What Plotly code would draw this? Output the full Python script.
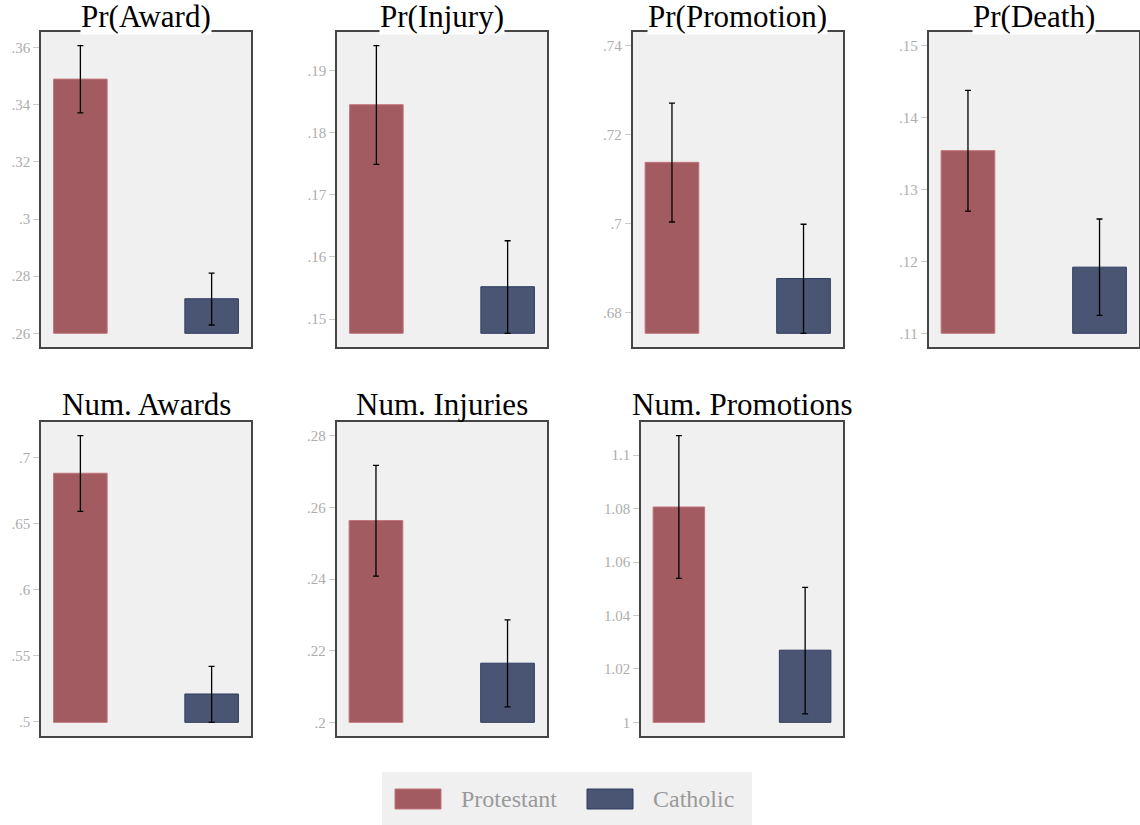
import plotly.graph_objects as go

# ---- data -------------------------------------------------------------
panel_titles = ["Pr(Award)", "Pr(Injury)", "Pr(Promotion)", "Pr(Death)",
                "Num. Awards", "Num. Injuries", "Num. Promotions"]
groups = ["Protestant", "Catholic"]

protestant_mean = [0.3490, 0.1845, 0.7138, 0.1354, 0.6881, 0.2563, 1.0806]
protestant_lo = [0.3372, 0.1749, 0.7004, 0.1270, 0.6592, 0.2408, 1.0539]
protestant_hi = [0.3607, 0.1940, 0.7271, 0.1438, 0.7166, 0.2717, 1.1073]

catholic_mean = [0.2721, 0.1552, 0.6877, 0.1192, 0.5207, 0.2165, 1.0270]
catholic_lo = [0.2629, 0.1477, 0.6754, 0.1125, 0.4992, 0.2043, 1.0032]
catholic_hi = [0.2811, 0.1626, 0.6999, 0.1259, 0.5416, 0.2286, 1.0505]

tick_values = [
    [0.26, 0.28, 0.30, 0.32, 0.34, 0.36],
    [0.15, 0.16, 0.17, 0.18, 0.19],
    [0.68, 0.70, 0.72, 0.74],
    [0.11, 0.12, 0.13, 0.14, 0.15],
    [0.50, 0.55, 0.60, 0.65, 0.70],
    [0.20, 0.22, 0.24, 0.26, 0.28],
    [1.00, 1.02, 1.04, 1.06, 1.08, 1.10],
]
tick_labels = [
    [".26", ".28", ".3", ".32", ".34", ".36"],
    [".15", ".16", ".17", ".18", ".19"],
    [".68", ".7", ".72", ".74"],
    [".11", ".12", ".13", ".14", ".15"],
    [".5", ".55", ".6", ".65", ".7"],
    [".2", ".22", ".24", ".26", ".28"],
    ["1", "1.02", "1.04", "1.06", "1.08", "1.1"],
]

# ---- styling ----------------------------------------------------------
W, H = 1140, 825
SERIF = "Liberation Serif, DejaVu Serif, serif"
FILL = {"Protestant": "#a25b60", "Catholic": "#4a5573"}
EDGE = {"Protestant": "#c2747a", "Catholic": "#2f3c62"}
PLOT_BG = "#f0f0f0"
FRAME = "#454545"
TICK_GREY = "#adadad"

# plot boxes in pixels: (left, right, top, bottom)
boxes = [
    (41, 251, 32, 347), (337, 547, 32, 347), (632.5, 843, 32, 347), (928.5, 1139, 32, 347),
    (41, 251, 422, 736), (336.5, 547, 422, 736), (641, 843, 422, 736),
]
PAD_FRAC = 13.7 / 287.6   # breathing room above / below the data extent
BAR_W = 0.408


def fx(px):
    return px / W


def fy(px):
    return 1 - px / H


fig = go.Figure()
layout = dict(
    width=W, height=H,
    margin=dict(l=0, r=0, t=0, b=0),
    paper_bgcolor="white", plot_bgcolor=PLOT_BG,
    barmode="overlay", showlegend=False,
    font=dict(family=SERIF),
    annotations=[], shapes=[],
)

for i, title in enumerate(panel_titles):
    sfx = "" if i == 0 else str(i + 1)
    left, right, top, bottom = boxes[i]

    lows = [protestant_lo[i], catholic_lo[i]]
    highs = [protestant_hi[i], catholic_hi[i]]
    floor_v = min(min(tick_values[i]), min(lows))
    ceil_v = max(max(tick_values[i]), max(highs))
    pad = PAD_FRAC * (ceil_v - floor_v)

    series = [
        ("Protestant", protestant_mean[i], protestant_lo[i], protestant_hi[i]),
        ("Catholic", catholic_mean[i], catholic_lo[i], catholic_hi[i]),
    ]
    for pos, (name, m, lo, hi) in enumerate(series):
        fig.add_trace(go.Bar(
            x=[pos], y=[m - floor_v], base=[floor_v], width=BAR_W, name=name,
            marker=dict(color=FILL[name], line=dict(color=EDGE[name], width=1)),
            error_y=dict(type="data", symmetric=False, array=[hi - m],
                         arrayminus=[m - lo], color="black", thickness=1.3, width=3),
            xaxis="x" + sfx, yaxis="y" + sfx,
        ))

    layout["xaxis" + sfx] = dict(
        domain=[fx(left), fx(right)], range=[-0.3, 1.3], anchor="y" + sfx,
        showticklabels=False, ticks="", showgrid=False, zeroline=False,
        showline=True, mirror=True, linecolor=FRAME, linewidth=1.5, fixedrange=True,
    )
    layout["yaxis" + sfx] = dict(
        domain=[fy(bottom), fy(top)], range=[floor_v - pad, ceil_v + pad],
        anchor="x" + sfx, tickmode="array",
        tickvals=tick_values[i], ticktext=tick_labels[i],
        ticks="outside", ticklen=6, tickwidth=1, tickcolor="#c8c8c8",
        tickfont=dict(family=SERIF, size=15, color=TICK_GREY),
        showgrid=False, zeroline=False,
        showline=True, mirror=True, linecolor=FRAME, linewidth=1.5, fixedrange=True,
    )

    top_row = i < 4
    layout["annotations"].append(dict(
        text=title, xref="paper", yref="paper",
        x=fx((left + right) / 2), y=fy(top + (3.5 if top_row else 0.5)),
        xanchor="center", yanchor="bottom", showarrow=False,
        font=dict(family=SERIF, size=31, color="black"),
        bgcolor="white" if top_row else "rgba(0,0,0,0)", borderpad=0,
    ))

# ---- legend -----------------------------------------------------------
layout["shapes"].append(dict(
    type="rect", xref="paper", yref="paper", layer="below",
    x0=fx(382), x1=fx(752), y0=fy(826), y1=fy(772),
    fillcolor=PLOT_BG, line=dict(width=0),
))
legend_items = [(groups[0], 395, 459), (groups[1], 587, 651)]
for name, sw_left, txt_left in legend_items:
    layout["shapes"].append(dict(
        type="rect", xref="paper", yref="paper",
        x0=fx(sw_left), x1=fx(sw_left + 46), y0=fy(809), y1=fy(789),
        fillcolor=FILL[name], line=dict(color=EDGE[name], width=1),
    ))
    layout["annotations"].append(dict(
        text=name, xref="paper", yref="paper",
        x=fx(txt_left), y=fy(799), xanchor="left", yanchor="middle",
        showarrow=False, font=dict(family=SERIF, size=24, color="#9a9a9a"),
    ))

fig.update_layout(**layout)
fig.write_html("out.html")
